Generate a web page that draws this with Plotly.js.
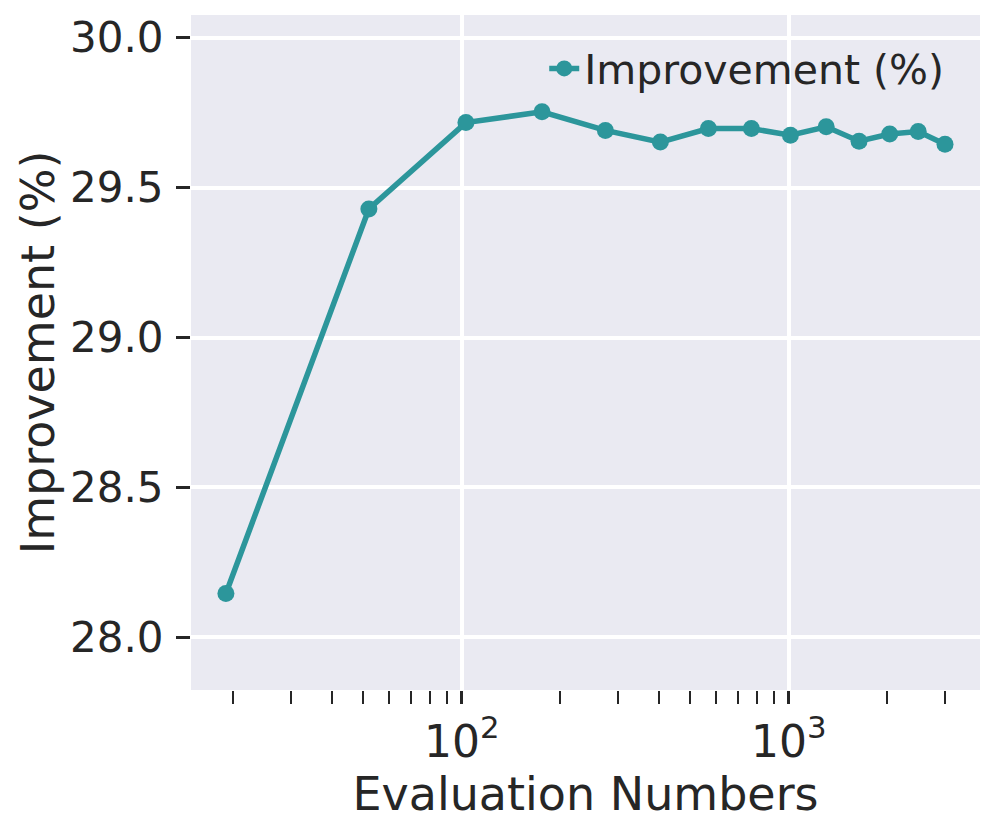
<!DOCTYPE html>
<html>
<head>
<meta charset="utf-8">
<script src="https://cdn.plot.ly/plotly-3.0.1.min.js"></script>
<style>html,body{margin:0;padding:0;background:#fff;}#chart{width:995px;height:833px;}</style>
</head>
<body>
<div id="chart"></div>
<script>
const evalNumbers = [19, 52, 103, 176, 275, 405, 568, 769, 1012, 1302, 1641, 2037, 2489, 3006];
const improvement = [28.146, 29.429, 29.717, 29.753, 29.691, 29.652, 29.697, 29.697, 29.675, 29.703, 29.655, 29.679, 29.687, 29.645];
const seriesName = 'Improvement (%)';
const xTitle = 'Evaluation Numbers';
const yTitle = 'Improvement (%)';
const xTickVals = [100, 1000];
const xTickText = ['10<sup>2</sup>', '10<sup>3</sup>'];
const yTickVals = [28.0, 28.5, 29.0, 29.5, 30.0];
const yTickText = ['28.0', '28.5', '29.0', '29.5', '30.0'];

const minorVals = [];
for (let d = 10; d <= 1000; d *= 10) {
  for (let k = 2; k <= 9; k++) minorVals.push(k * d);
}

const ink = '#262626';
const teal = '#2c969b';
const fontFam = '"DejaVu Sans", sans-serif';

const trace = {
  x: evalNumbers,
  y: improvement,
  type: 'scatter',
  mode: 'lines+markers',
  name: seriesName,
  line: {color: teal, width: 5.5},
  marker: {color: teal, size: 17}
};

const layout = {
  width: 995,
  height: 833,
  margin: {l: 191, r: 15, t: 15, b: 143},
  paper_bgcolor: '#ffffff',
  plot_bgcolor: '#EAEAF2',
  font: {family: fontFam, color: ink, size: 42},
  showlegend: true,
  legend: {
    x: 0.961, y: 0.97, xanchor: 'right', yanchor: 'top',
    bgcolor: 'rgba(0,0,0,0)',
    font: {family: fontFam, size: 41, color: ink}
  },
  xaxis: {
    type: 'log',
    range: [1.172, 3.585],
    tickmode: 'array',
    tickvals: xTickVals,
    ticktext: xTickText,
    showgrid: true,
    gridcolor: '#ffffff',
    gridwidth: 4,
    zeroline: false,
    showline: false,
    ticks: 'outside',
    ticklen: 13,
    tickwidth: 3,
    tickcolor: ink,
    tickfont: {family: fontFam, size: 44, color: ink},
    minor: {
      tickmode: 'array',
      tickvals: minorVals,
      ticks: 'outside',
      ticklen: 13,
      tickwidth: 2,
      tickcolor: ink,
      showgrid: false
    },
    automargin: false,
    title: {text: xTitle, font: {family: fontFam, size: 46, color: ink}, standoff: 8}
  },
  yaxis: {
    range: [27.824, 30.076],
    tickmode: 'array',
    tickvals: yTickVals,
    ticktext: yTickText,
    showgrid: true,
    gridcolor: '#ffffff',
    gridwidth: 4,
    zeroline: false,
    showline: false,
    ticks: 'outside',
    ticklen: 14,
    tickwidth: 3,
    tickcolor: ink,
    ticklabelstandoff: 4,
    tickfont: {family: fontFam, size: 42, color: ink},
    automargin: false,
    title: {text: yTitle, font: {family: fontFam, size: 46, color: ink}, standoff: 0}
  }
};

Plotly.newPlot('chart', [trace], layout, {displayModeBar: false, staticPlot: true});
</script>
</body>
</html>
